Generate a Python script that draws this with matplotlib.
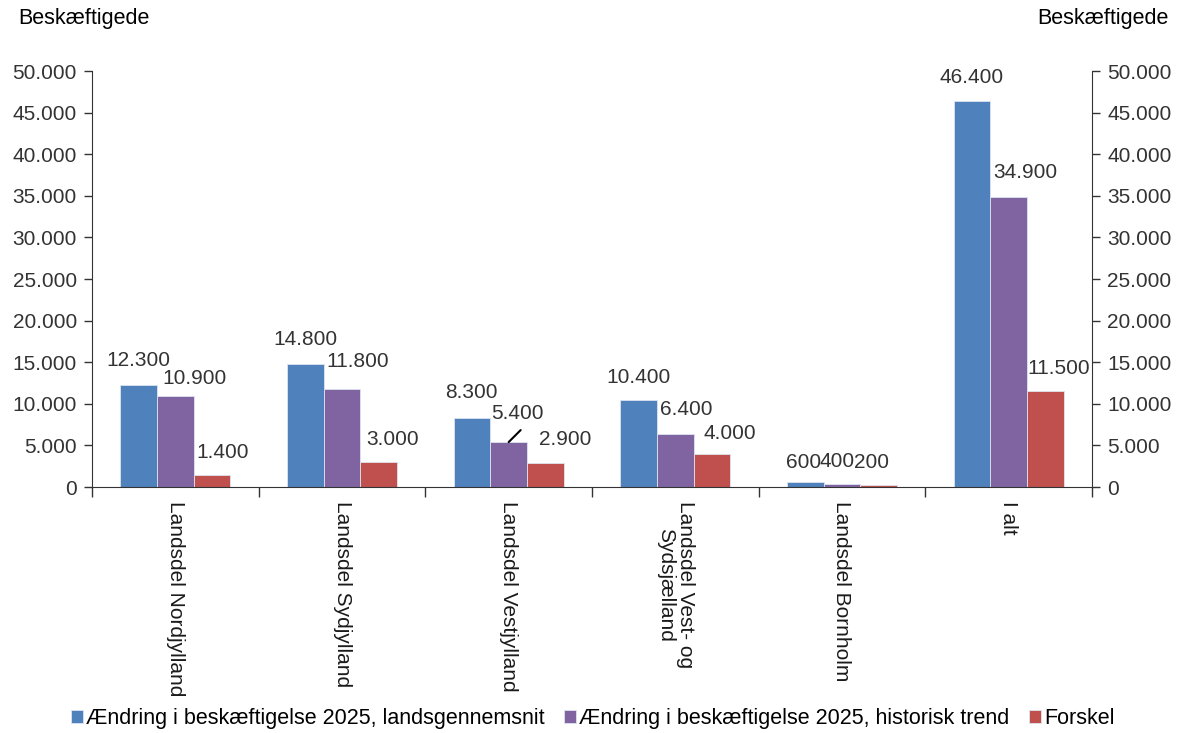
import matplotlib
matplotlib.use('Agg')
import matplotlib.pyplot as plt
import matplotlib.ticker as mticker
import numpy as np

plt.rcParams['font.family'] = ['Liberation Sans', 'DejaVu Sans']

categories = ['Landsdel Nordjylland', 'Landsdel Sydjylland', 'Landsdel Vestjylland',
              'Landsdel Vest- og\nSydsjælland', 'Landsdel Bornholm', 'I alt']
lands = [12300, 14800, 8300, 10400, 600, 46400]
trend = [10900, 11800, 5400, 6400, 400, 34900]
forskel = [1400, 3000, 2900, 4000, 200, 11500]
series_names = ['Ændring i beskæftigelse 2025, landsgennemsnit',
                'Ændring i beskæftigelse 2025, historisk trend',
                'Forskel']
colors = ['#4F81BD', '#8064A2', '#C0504D']

# label offsets in pixels (dx, dy of label centre relative to bar top centre)
label_dx = [[0, 0, -1, 0, -2, 0],
            [19, 16, 9, 11, -5, 17],
            [11, 14, 20, 18, -7, 13]]
label_dy = [[24, 24, 25, 23, 20, 23],
            [18, 27, 29, 24, 22, 24],
            [23, 23, 23, 20, 23, 23]]


def fmt(v, pos=None):
    return f'{int(v):,}'.replace(',', '.')


fig = plt.figure(figsize=(11.86, 7.33), dpi=100)
ax = fig.add_axes([0.0776, 0.3356, 0.8431, 0.5675])

x = np.arange(len(categories))
w = 0.22
data = [lands, trend, forskel]
for i, (vals, c, name) in enumerate(zip(data, colors, series_names)):
    xs = x + (i - 1) * w
    ax.bar(xs, vals, w, color=c, edgecolor='#dde4ee', linewidth=0.6, label=name)
    for j, (xx, v) in enumerate(zip(xs, vals)):
        ax.annotate(fmt(v), xy=(xx, v), xytext=(label_dx[i][j], label_dy[i][j]),
                    textcoords='offset pixels', ha='center', va='center',
                    fontsize=15, color='#333333')

# leader line for the Vestjylland trend label
ax.annotate('', xy=(x[2], trend[2]), xytext=(12, 12), textcoords='offset pixels',
            arrowprops=dict(arrowstyle='-', color='black', lw=1.5, shrinkA=0, shrinkB=0))

ax.set_xlim(-0.5, len(categories) - 0.5)
ax.set_ylim(0, 50000)
ax.yaxis.set_major_locator(mticker.MultipleLocator(5000))
ax.yaxis.set_major_formatter(mticker.FuncFormatter(fmt))
ax.tick_params(axis='y', labelsize=15, labelcolor='#333333', length=6, width=1,
               color='#333333', pad=5)

ax.set_xticks(x)
ax.set_xticklabels(categories, rotation=270, fontsize=15, color='#1a1a1a',
                   va='top', ha='center', linespacing=1.05)
ax.tick_params(axis='x', length=0, pad=10)
ax.set_xticks(np.arange(len(categories) + 1) - 0.5, minor=True)
ax.tick_params(axis='x', which='minor', length=7, width=1, color='#333333')

for s in ['top', 'right']:
    ax.spines[s].set_visible(False)
for s in ['left', 'bottom']:
    ax.spines[s].set_color('#333333')

ax2 = ax.twinx()
ax2.set_ylim(0, 50000)
ax2.yaxis.set_major_locator(mticker.MultipleLocator(5000))
ax2.yaxis.set_major_formatter(mticker.FuncFormatter(fmt))
ax2.tick_params(axis='y', labelsize=15, labelcolor='#333333', length=6, width=1,
                color='#333333', pad=5)
for s in ['top', 'left', 'bottom']:
    ax2.spines[s].set_visible(False)
ax2.spines['right'].set_color('#333333')

fig.text(0.015, 0.975, 'Beskæftigede', fontsize=15.5, ha='left', va='center')
fig.text(0.985, 0.975, 'Beskæftigede', fontsize=15.5, ha='right', va='center')

fig.legend(loc='center', bbox_to_anchor=(0.5, 0.02), ncol=3, frameon=False,
           fontsize=15.5, handlelength=0.55, handleheight=0.55, handletextpad=0.15,
           columnspacing=0.9)

fig.savefig('out.png', dpi=100)
